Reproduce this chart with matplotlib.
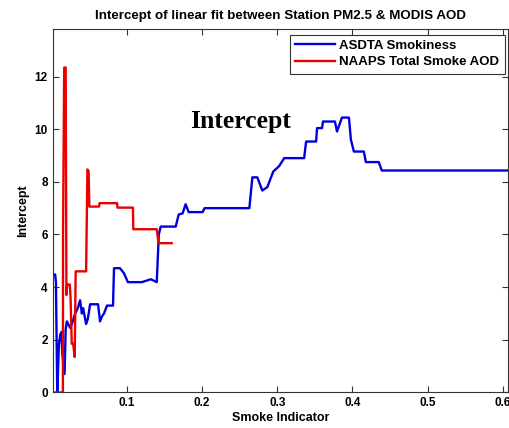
import numpy as np
import matplotlib
matplotlib.use("Agg")
import matplotlib.pyplot as plt

# running intercept of the PM2.5 vs AOD fit, per smoke-indicator threshold
asdta_x = [0.0024, 0.0045, 0.0055, 0.0073, 0.0095, 0.0113, 0.013, 0.0139, 0.017,
           0.0185, 0.0201, 0.0245, 0.028, 0.0311, 0.0345, 0.0377, 0.040, 0.0417,
           0.0457, 0.048, 0.051, 0.0616, 0.0642, 0.067, 0.0695, 0.0735, 0.0815,
           0.0828, 0.0907, 0.096, 0.1013, 0.1199, 0.1318, 0.1397, 0.1424, 0.145,
           0.1649, 0.1689, 0.174, 0.1781, 0.1821, 0.2007, 0.2033, 0.2629, 0.2669,
           0.2735, 0.2801, 0.2868, 0.2947, 0.3026, 0.3093, 0.3358, 0.3384, 0.3517,
           0.353, 0.3596, 0.3609, 0.3768, 0.3795, 0.3861, 0.3954, 0.398, 0.402,
           0.4152, 0.4179, 0.4351, 0.4391, 0.607]
asdta_y = [4.48, 4.48, 4.2, 0.0, 1.8, 2.2, 2.3, 1.5, 0.7,
           2.4, 2.7, 2.45, 2.7, 3.0, 3.2, 3.5, 3.0, 3.2,
           2.6, 2.8, 3.35, 3.35, 2.7, 2.9, 3.0, 3.3, 3.3,
           4.72, 4.72, 4.53, 4.19, 4.19, 4.3, 4.19, 6.0, 6.3,
           6.3, 6.76, 6.8, 7.15, 6.85, 6.85, 7.0, 7.0, 8.17,
           8.17, 7.67, 7.8, 8.39, 8.6, 8.9, 8.9, 9.53, 9.53,
           10.04, 10.04, 10.29, 10.29, 9.91, 10.44, 10.44, 9.6, 9.15,
           9.15, 8.75, 8.75, 8.43, 8.43]

naaps_x = [0.002, 0.0148, 0.0150, 0.0165, 0.0185, 0.019, 0.0195, 0.0205, 0.024,
           0.025, 0.0266, 0.0285, 0.0305, 0.0318, 0.0457, 0.0474, 0.049, 0.050,
           0.0629, 0.0635, 0.0868, 0.0875, 0.108, 0.1085, 0.1397, 0.142, 0.1596]
naaps_y = [0.0, 0.0, 6.1, 12.34, 12.34, 8.1, 3.7, 4.1, 4.1,
           3.6, 1.85, 1.85, 1.35, 4.6, 4.6, 8.47, 8.4, 7.06,
           7.06, 7.19, 7.19, 7.02, 7.02, 6.2, 6.2, 5.67, 5.67]

plt.rcParams['font.family'] = ['Liberation Sans', 'DejaVu Sans']

fig = plt.figure(figsize=(5.1, 4.28), dpi=100)
ax = fig.add_axes([0.103, 0.083, 0.893, 0.849])

ax.plot(asdta_x, asdta_y, color=(0, 0, 0.87), lw=1.7, label='ASDTA Smokiness')
ax.plot(naaps_x, naaps_y, color=(0.92, 0, 0), lw=1.7, label='NAAPS Total Smoke AOD')

ax.set_xlim(0.001, 0.607)
ax.set_ylim(0, 13.8)
ax.set_xticks([0.1, 0.2, 0.3, 0.4, 0.5, 0.6])
ax.set_yticks([0, 2, 4, 6, 8, 10, 12])
ax.tick_params(direction='in', top=True, right=True, length=4, width=0.8,
               labelsize=8.5, color='#333333')
for lab in ax.get_xticklabels() + ax.get_yticklabels():
    lab.set_fontweight('bold')
for s in ax.spines.values():
    s.set_color('#333333')
    s.set_linewidth(0.8)

ax.set_xlabel('Smoke Indicator', fontsize=9, fontweight='bold', labelpad=2)
ax.set_ylabel('Intercept', fontsize=9, fontweight='bold', labelpad=4)
ax.set_title('Intercept of linear fit between Station PM2.5 & MODIS AOD',
             fontsize=9.6, fontweight='bold', pad=7)

ax.text(0.1838, 10.3, 'Intercept', family=['Liberation Serif', 'DejaVu Serif'],
        fontsize=18.5, fontweight='bold', va='center', ha='left')

leg = ax.legend(loc='upper right', bbox_to_anchor=(0.993, 0.985), borderaxespad=0,
                fancybox=False, framealpha=1, edgecolor='#333333', handlelength=3.0,
                prop={'weight': 'bold', 'size': 9.5}, borderpad=0.4,
                labelspacing=0.3, handletextpad=0.35)
leg.get_frame().set_linewidth(0.8)

fig.savefig('out.png', dpi=100)
